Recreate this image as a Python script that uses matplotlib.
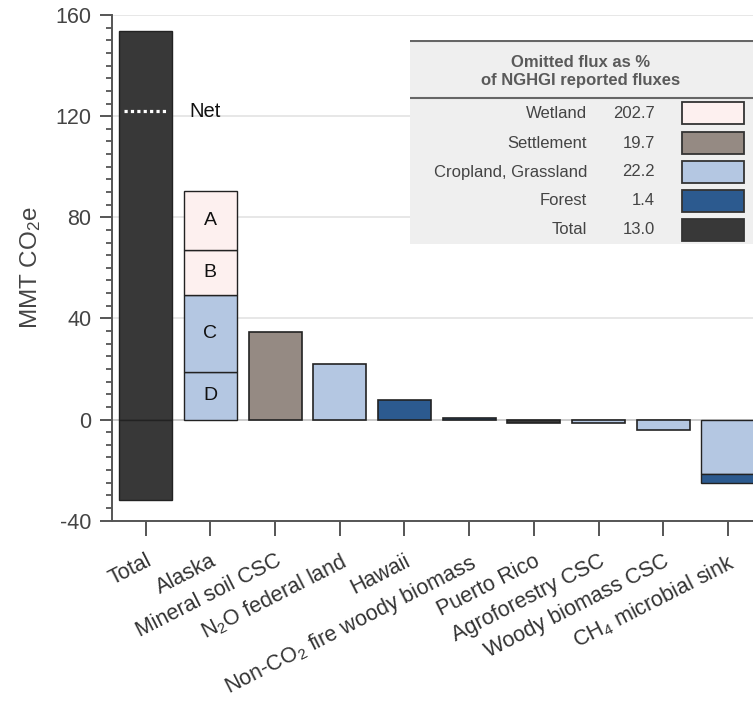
import matplotlib.pyplot as plt
import numpy as np
from matplotlib.patches import Rectangle
from matplotlib.transforms import ScaledTranslation

plt.rcParams['font.family'] = ['Liberation Sans', 'DejaVu Sans']
plt.rcParams['mathtext.fontset'] = 'custom'
plt.rcParams['mathtext.rm'] = 'Liberation Sans'
plt.rcParams['mathtext.it'] = 'Liberation Sans'
plt.rcParams['axes.unicode_minus'] = False

# categories and values (MMT CO2e)
categories = ["Total", "Alaska", "Mineral soil CSC", "N$_2$O federal land", "Hawaii",
              "Non-CO$_2$ fire woody biomass", "Puerto Rico", "Agroforestry CSC",
              "Woody biomass CSC", "CH$_4$ microbial sink"]
total_pos = 153.5
total_neg = -32.0
net_value = 122.0
# Alaska stacked segments (bottom to top): D, C, B, A
alaska_segments = [18.7, 30.6, 17.9, 23.1]
alaska_letters = ["D", "C", "B", "A"]
alaska_types = ["Cropland", "Cropland", "Wetland", "Wetland"]
single_values = [34.8, 21.9, 7.6, 0.5, -1.2, -1.5, -4.0]
single_types = ["Settlement", "Cropland", "Forest", "Forest", "Total", "Cropland", "Cropland"]
ch4_segments = [-21.5, -3.5]
ch4_types = ["Cropland", "Forest"]

# table data
table_labels = ["Wetland", "Settlement", "Cropland, Grassland", "Forest", "Total"]
table_pct = [202.7, 19.7, 22.2, 1.4, 13.0]

colors = {"Wetland": "#fdf0ef", "Settlement": "#958a83", "Cropland": "#b4c7e2",
          "Cropland, Grassland": "#b4c7e2", "Forest": "#2c5a8f", "Total": "#383838"}
edge = "#222222"
w = 0.82

fig = plt.figure(figsize=(7.53, 7.15), dpi=100)
ax = fig.add_axes([0.1487, 0.2718, 0.8513, 0.7072])
x = np.arange(len(categories))

ax.yaxis.grid(True, color="#e3e3e3", linewidth=1.2, zorder=0)
ax.axhline(0, color="#555555", linewidth=1.3, zorder=1)

# Total
ax.bar(x[0], total_pos, w, color=colors["Total"], edgecolor=edge, linewidth=1, zorder=2)
ax.bar(x[0], total_neg, w, color=colors["Total"], edgecolor=edge, linewidth=1, zorder=2)
ax.plot([x[0] - 0.33, x[0] + 0.33], [net_value, net_value], color="white", linestyle=(0, (1, 1)),
        linewidth=2.3, zorder=3)
ax.text(x[0] + 0.68, net_value, "Net", fontsize=14.5, va="center", ha="left", color="#111111", zorder=3)

# Alaska
bottom = 0
for seg, letter, t in zip(alaska_segments, alaska_letters, alaska_types):
    ax.bar(x[1], seg, w, bottom=bottom, color=colors[t], edgecolor=edge, linewidth=1, zorder=2)
    ax.text(x[1], bottom + seg / 2, letter, ha="center", va="center", fontsize=14, color="#111111", zorder=3)
    bottom += seg

# single bars
for xi, v, t in zip(x[2:9], single_values, single_types):
    ax.bar(xi, v, w, color=colors[t], edgecolor=edge, linewidth=1.2, zorder=2)

# CH4 stacked negative
bottom = 0
for seg, t in zip(ch4_segments, ch4_types):
    ax.bar(x[9], seg, w, bottom=bottom, color=colors[t], edgecolor=edge, linewidth=1, zorder=2)
    bottom += seg

ax.set_xlim(-0.52, 9.386)
ax.set_ylim(-40, 160)
ax.set_yticks([-40, 0, 40, 80, 120, 160])
ax.set_yticks(np.arange(-40, 161, 5), minor=True)
ax.set_xticks(x)
ax.set_xticklabels(categories, rotation=27, ha="right", rotation_mode="anchor", fontsize=15.5, color="#333333")
shift = ScaledTranslation(10 / 100, 0, fig.dpi_scale_trans)
for lab in ax.get_xticklabels():
    lab.set_transform(lab.get_transform() + shift)
ax.tick_params(axis="y", which="major", direction="out", length=9, width=1.4, labelsize=15.5,
               labelcolor="#444444", color="#555555", pad=6)
ax.tick_params(axis="y", which="minor", direction="out", length=4.5, width=1.3, color="#555555")
ax.tick_params(axis="x", direction="out", length=10.5, width=1.4, color="#555555", pad=11)
for s in ["top", "right"]:
    ax.spines[s].set_visible(False)
for s in ["left", "bottom"]:
    ax.spines[s].set_color("#555555")
    ax.spines[s].set_linewidth(1.4)
ax.set_ylabel("MMT CO$_2$e", fontsize=17.5, color="#444444", labelpad=9)

# table in pixel-like coordinates
tax = fig.add_axes([410 / 753, 1 - 244 / 715, 343 / 753, 204 / 715])
tax.set_xlim(410, 753)
tax.set_ylim(244, 40)
tax.axis("off")
tax.add_patch(Rectangle((410, 40), 343, 204, facecolor="#efefef", edgecolor="none"))
tax.plot([410, 753], [41, 41], color="#666666", linewidth=1.5)
tax.plot([410, 753], [98, 98], color="#666666", linewidth=1.5)
tax.text(581, 71.5, "Omitted flux as %\nof NGHGI reported fluxes", ha="center", va="center",
         fontsize=12, fontweight="bold", color="#5a5a5a", linespacing=1.3)
row_y = [113, 143, 172, 200.5, 230]
for yy, lab, pct in zip(row_y, table_labels, table_pct):
    tax.text(587, yy, lab, ha="right", va="center", fontsize=12, color="#444444")
    tax.text(655, yy, f"{pct:.1f}", ha="right", va="center", fontsize=12, color="#444444")
    tax.add_patch(Rectangle((682, yy - 11), 62, 22, facecolor=colors[lab], edgecolor="#333333", linewidth=1.3))

fig.savefig("out.png", dpi=100)
